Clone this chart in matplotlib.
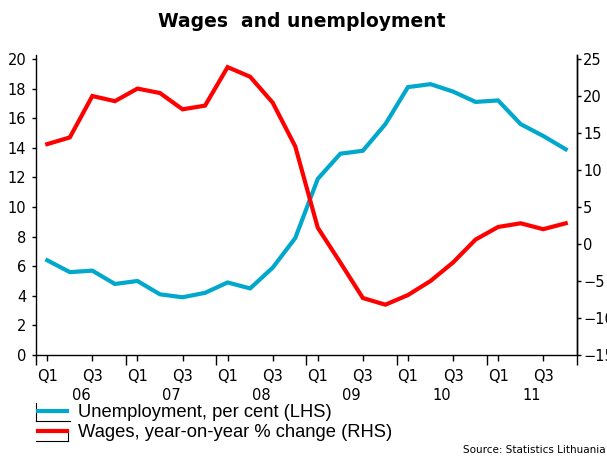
import numpy as np
import matplotlib.pyplot as plt
from matplotlib.lines import Line2D
from matplotlib.transforms import blended_transform_factory

# quarterly data, Q1 2006 .. Q4 2011
unemployment = [6.4, 5.6, 5.7, 4.8, 5.0, 4.1, 3.9, 4.2,
                4.9, 4.5, 5.9, 7.9, 11.9, 13.6, 13.8, 15.6,
                18.1, 18.3, 17.8, 17.1, 17.2, 15.6, 14.8, 13.9]
wages = [13.5, 14.4, 20.0, 19.3, 21.0, 20.4, 18.2, 18.7,
         23.9, 22.6, 19.1, 13.2, 2.2, -2.5, -7.3, -8.2,
         -6.9, -5.0, -2.5, 0.6, 2.3, 2.8, 2.0, 2.8]
years = ['06', '07', '08', '09', '10', '11']
quarter_labels = ['Q1', 'Q3']

blue = '#00a8cc'
red = '#ff0000'

W, H = 607, 457
fig = plt.figure(figsize=(W / 100, H / 100), dpi=100)
ax = fig.add_axes([36 / W, 102 / H, 541 / W, 300 / H])
ax2 = ax.twinx()

x = np.arange(len(unemployment))
l1, = ax.plot(x, unemployment, color=blue, lw=3, solid_joinstyle='miter')
l2, = ax2.plot(x, wages, color=red, lw=3, solid_joinstyle='miter')

top = 20.27
ax.set_ylim(0, top)
ax2.set_ylim(-15, -15 + 40 * top / 20)
ax.set_xlim(-0.5, len(x) - 0.5)

ax.set_yticks(np.arange(0, 21, 2))
ax2.set_yticks(np.arange(-15, 26, 5))

# year boundaries as major ticks, Q1/Q3 as labelled minor ticks
ax.set_xticks(np.arange(-0.5, len(x), 4))
ax.set_xticklabels([])
ax.set_xticks(np.arange(0, len(x), 2), minor=True)
ax.set_xticklabels(quarter_labels * (len(x) // 4), minor=True)
ax.tick_params(axis='x', which='major', length=7, width=1, direction='out')
ax.tick_params(axis='x', which='minor', length=4, width=1, direction='out',
               pad=6, labelsize=10.5)
ax.tick_params(axis='y', length=3, width=1, labelsize=10.5, pad=4)
ax2.tick_params(axis='y', length=3, width=1, labelsize=10.5, pad=1.5)

for a in (ax, ax2):
    a.spines['top'].set_visible(False)
    for s in a.spines.values():
        s.set_linewidth(1)
ax2.spines['left'].set_visible(False)
ax2.spines['bottom'].set_visible(False)

trans = blended_transform_factory(ax.transData, ax.transAxes)
for i, yr in enumerate(years):
    ax.text(1.5 + 4 * i, -0.135, yr, transform=trans, ha='center', va='center',
            fontsize=10.5)

fig.text(0.497, 0.952, 'Wages  and unemployment', ha='center', va='center',
         fontsize=13.5, fontweight='bold')

fig.legend([l1, l2], ['Unemployment, per cent (LHS)',
                      'Wages, year-on-year % change (RHS)'],
           loc='upper left', bbox_to_anchor=(38 / W, 1 - 404 / H), frameon=False,
           prop={'family': 'Liberation Sans', 'size': 13.2}, handlelength=1.6,
           handletextpad=0.6, labelspacing=0.16, borderaxespad=0, borderpad=0)


# bits of the legend key boxes
def seg(x0, y0, x1, y1):
    fig.add_artist(Line2D([x0 / W, x1 / W], [1 - y0 / H, 1 - y1 / H],
                          transform=fig.transFigure, color='black', lw=0.8))


seg(36, 403, 36, 421)
seg(36, 421, 70, 421)
seg(36, 441, 68, 441)
seg(68, 430, 68, 441)

fig.text(0.998, 0.005, 'Source: Statistics Lithuania', ha='right', va='bottom',
         fontsize=7.5)

fig.savefig('out.png', dpi=100)
